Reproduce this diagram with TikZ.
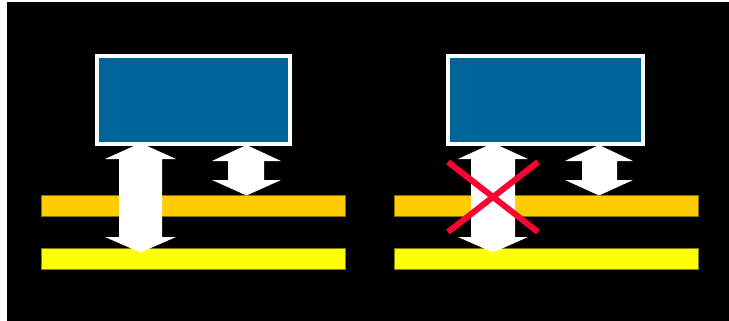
\documentclass[tikz,border=0pt]{standalone}
\definecolor{boxblue}{RGB}{0,102,153}
\definecolor{barorange}{RGB}{255,204,0}
\definecolor{baryellow}{RGB}{255,255,0}
\definecolor{xred}{RGB}{255,0,51}
\begin{document}
\begin{tikzpicture}[x=1pt,y=-1pt,
  chip/.style={draw=white,line width=3.8pt,fill=boxblue},
  obar/.style={fill=barorange,draw=barorange!55!black,line width=0.6pt},
  ybar/.style={fill=baryellow,draw=baryellow!50!black,line width=0.6pt},
  warrow/.style={fill=white,draw=none},
  cross/.style={draw=xred,line width=6pt}]
\useasboundingbox (0,0) rectangle (729,321);
\fill[white] (0,0) rectangle (729,321);
\fill[black] (6.5,2) rectangle (729,321);
% bars
\path[obar] (41,195.5) rectangle (345,216.5);
\path[ybar] (41,248.5) rectangle (345,269.5);
\path[obar] (394,195.5) rectangle (698,216.5);
\path[ybar] (394,248.5) rectangle (698,269.5);
% left big arrow (center 140.5)
\fill[warrow] (140.5,143) -- (176,159) -- (162,159) -- (162,237) -- (176,237) -- (140.5,252.5)
  -- (105,237) -- (119,237) -- (119,159) -- (105,159) -- cycle;
% left small arrow (center 246.5)
\fill[warrow] (246.5,145) -- (281,161) -- (264,161) -- (264,180) -- (281,180) -- (246.5,195.5)
  -- (212,180) -- (228,180) -- (228,161) -- (212,161) -- cycle;
% right big arrow (center 493)
\fill[warrow] (493,143) -- (528,159) -- (515,159) -- (515,237) -- (528,237) -- (493,252.5)
  -- (458,237) -- (471,237) -- (471,159) -- (458,159) -- cycle;
% right small arrow (center 599)
\fill[warrow] (599,145) -- (633,161) -- (617,161) -- (617,180) -- (633,180) -- (599,195.5)
  -- (565,180) -- (582,180) -- (582,161) -- (565,161) -- cycle;
% boxes
\node[chip,minimum width=193pt,minimum height=88pt,inner sep=0pt] (boxL) at (193.5,100) {};
\node[chip,minimum width=195pt,minimum height=88pt,inner sep=0pt] (boxR) at (545.5,100) {};
% red cross
\coordinate (xa) at (448,162);
\coordinate (xb) at (538,232);
\coordinate (xc) at (538,162);
\coordinate (xd) at (448,232);
\draw[cross] (xa) -- (xb);
\draw[cross] (xc) -- (xd);
\end{tikzpicture}
\end{document}
